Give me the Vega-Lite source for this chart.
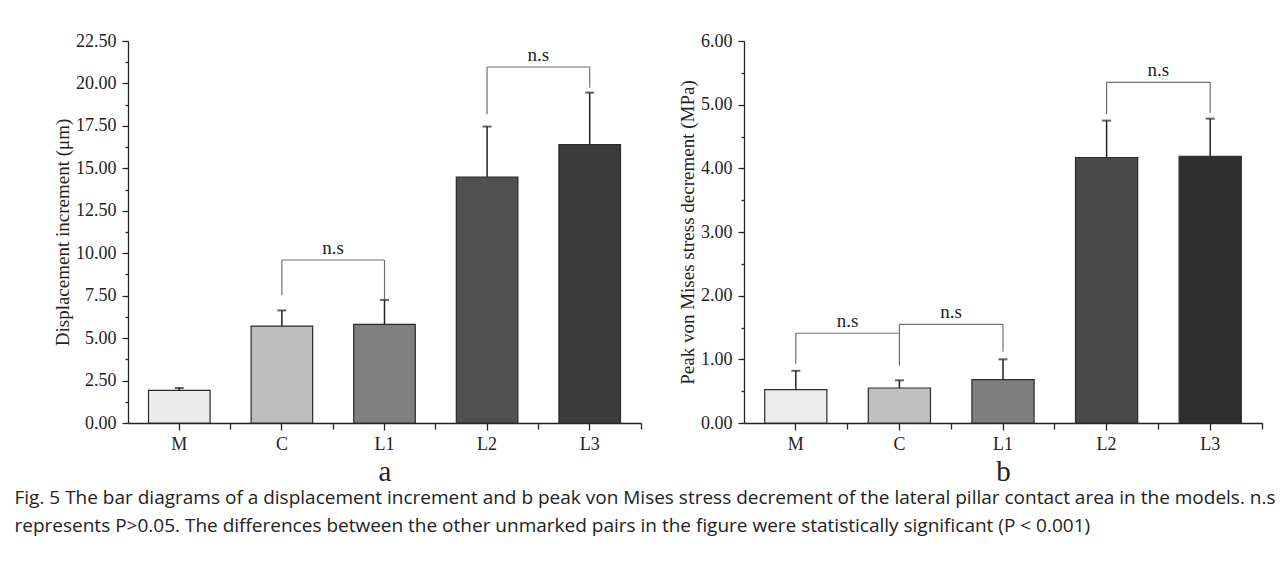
{
  "$schema": "https://vega.github.io/schema/vega-lite/v6.json",
  "background": "white",
  "padding": {"left": 14, "top": 32, "right": 5, "bottom": 5},
  "config": {
    "view": {"stroke": null},
    "axis": {
      "labelFont": "Liberation Serif", "labelFontSize": 18, "labelColor": "#222",
      "titleFont": "Liberation Serif", "titleFontWeight": "normal", "titleColor": "#222",
      "domainColor": "#222", "tickColor": "#222", "domainWidth": 1.3, "tickWidth": 1.3,
      "grid": false
    }
  },
  "title": {
    "text": [
      "Fig. 5 The bar diagrams of a displacement increment and b peak von Mises stress decrement of the lateral pillar contact area in the models. n.s",
      "represents P>0.05. The differences between the other unmarked pairs in the figure were statistically significant (P < 0.001)"
    ],
    "orient": "bottom", "anchor": "start", "font": "Open Sans", "fontSize": 19,
    "fontWeight": "normal", "color": "#222", "lineHeight": 28, "offset": 3, "dx": -39
  },
  "datasets": {
    "a_bars": [
      {"group": "M", "mean": 1.92, "upper": 2.06},
      {"group": "C", "mean": 5.71, "upper": 6.63},
      {"group": "L1", "mean": 5.81, "upper": 7.25},
      {"group": "L2", "mean": 14.49, "upper": 17.46},
      {"group": "L3", "mean": 16.4, "upper": 19.46}
    ],
    "a_legs": [
      {"cat": "C", "lo": 7.52, "hi": 9.6},
      {"cat": "L1", "lo": 7.3, "hi": 9.6},
      {"cat": "L2", "lo": 18.18, "hi": 20.97},
      {"cat": "L3", "lo": 19.75, "hi": 20.97}
    ],
    "a_brk": [
      {"from": "C", "to": "L1", "y": 9.6, "label": "n.s"},
      {"from": "L2", "to": "L3", "y": 20.97, "label": "n.s"}
    ],
    "b_bars": [
      {"group": "M", "mean": 0.525, "upper": 0.82},
      {"group": "C", "mean": 0.55, "upper": 0.67},
      {"group": "L1", "mean": 0.68, "upper": 1.0},
      {"group": "L2", "mean": 4.17, "upper": 4.75},
      {"group": "L3", "mean": 4.19, "upper": 4.78}
    ],
    "b_legs": [
      {"cat": "M", "lo": 0.93, "hi": 1.41},
      {"cat": "C", "lo": 0.9, "hi": 1.55},
      {"cat": "L1", "lo": 1.12, "hi": 1.55},
      {"cat": "L2", "lo": 4.85, "hi": 5.35},
      {"cat": "L3", "lo": 4.87, "hi": 5.35}
    ],
    "b_brk": [
      {"from": "M", "to": "C", "y": 1.41, "label": "n.s"},
      {"from": "C", "to": "L1", "y": 1.55, "label": "n.s"},
      {"from": "L2", "to": "L3", "y": 5.35, "label": "n.s"}
    ]
  },
  "spacing": 36,
  "resolve": {"scale": {"fill": "independent"}},
  "hconcat": [
    {
      "width": 513, "height": 382,
      "layer": [
        {
          "data": {"name": "a_bars"},
          "mark": {"type": "bar", "width": {"band": 0.6}, "stroke": "#2a2a2a", "strokeWidth": 1.2},
          "encoding": {
            "x": {"field": "group", "type": "nominal",
              "scale": {"domain": ["M", "C", "L1", "L2", "L3"], "paddingInner": 0, "paddingOuter": 0},
              "axis": {"orient": "bottom", "bandPosition": 0.5, "tickSize": 7, "labelPadding": 5, "labelAngle": 0,
                "title": "a", "titleFontSize": 29, "titlePadding": 4}},
            "y": {"field": "mean", "type": "quantitative",
              "scale": {"domain": [0, 22.5], "nice": false, "zero": true},
              "axis": {"orient": "left", "values": [0, 2.5, 5, 7.5, 10, 12.5, 15, 17.5, 20, 22.5], "format": ".2f",
                "tickSize": 6, "labelPadding": 6, "title": "Displacement  increment (μm)", "titleFontSize": 19, "titlePadding": 3}},
            "fill": {"field": "group", "type": "nominal",
              "scale": {"domain": ["M", "C", "L1", "L2", "L3"], "range": ["#ebebeb", "#bebebe", "#808080", "#505050", "#3c3c3c"]},
              "legend": null}
          }
        },
        {
          "data": {"name": "a_bars"},
          "mark": {"type": "rule", "color": "#222", "strokeWidth": 1.5},
          "encoding": {
            "x": {"field": "group", "type": "nominal",
              "axis": {"orient": "bottom", "bandPosition": 1, "tickSize": 6, "labels": false, "domain": false, "title": null}},
            "y": {"field": "mean", "type": "quantitative",
              "axis": {"orient": "left", "values": [1.25, 3.75, 6.25, 8.75, 11.25, 13.75, 16.25, 18.75, 21.25],
                "tickSize": 3, "labels": false, "domain": false, "title": null}},
            "y2": {"field": "upper"}
          }
        },
        {
          "data": {"name": "a_bars"},
          "mark": {"type": "tick", "color": "#222", "thickness": 2, "size": 9},
          "encoding": {
            "x": {"field": "group", "type": "nominal", "axis": null},
            "y": {"field": "upper", "type": "quantitative", "axis": null}
          }
        },
        {
          "data": {"name": "a_legs"},
          "mark": {"type": "rule", "color": "#707070", "strokeWidth": 1.2},
          "encoding": {
            "x": {"field": "cat", "type": "nominal", "axis": null},
            "y": {"field": "lo", "type": "quantitative", "axis": null},
            "y2": {"field": "hi"}
          }
        },
        {
          "data": {"name": "a_brk"},
          "mark": {"type": "rule", "color": "#707070", "strokeWidth": 1.2},
          "encoding": {
            "x": {"field": "from", "type": "nominal", "axis": null},
            "x2": {"field": "to"},
            "y": {"field": "y", "type": "quantitative", "axis": null}
          }
        },
        {
          "data": {"name": "a_brk"},
          "mark": {"type": "text", "font": "Liberation Serif", "fontSize": 19, "color": "#222", "baseline": "alphabetic", "dy": -6},
          "encoding": {
            "x": {"field": "from", "type": "nominal", "bandPosition": 1, "axis": null},
            "y": {"field": "y", "type": "quantitative", "axis": null},
            "text": {"field": "label"}
          }
        }
      ],
      "resolve": {"axis": {"x": "independent", "y": "independent"}}
    },
    {
      "width": 518, "height": 382,
      "layer": [
        {
          "data": {"name": "b_bars"},
          "mark": {"type": "bar", "width": {"band": 0.6}, "stroke": "#2a2a2a", "strokeWidth": 1.2},
          "encoding": {
            "x": {"field": "group", "type": "nominal",
              "scale": {"domain": ["M", "C", "L1", "L2", "L3"], "paddingInner": 0, "paddingOuter": 0},
              "axis": {"orient": "bottom", "bandPosition": 0.5, "tickSize": 7, "labelPadding": 5, "labelAngle": 0,
                "title": "b", "titleFontSize": 29, "titlePadding": 4}},
            "y": {"field": "mean", "type": "quantitative",
              "scale": {"domain": [0, 6], "nice": false, "zero": true},
              "axis": {"orient": "left", "values": [0, 1, 2, 3, 4, 5, 6], "format": ".2f",
                "tickSize": 6, "labelPadding": 6, "title": "Peak von Mises stress decrement (MPa)", "titleFontSize": 19, "titlePadding": 3}},
            "fill": {"field": "group", "type": "nominal",
              "scale": {"domain": ["M", "C", "L1", "L2", "L3"], "range": ["#ececec", "#c0c0c0", "#7f7f7f", "#4a4a4a", "#2f2f2f"]},
              "legend": null}
          }
        },
        {
          "data": {"name": "b_bars"},
          "mark": {"type": "rule", "color": "#222", "strokeWidth": 1.5},
          "encoding": {
            "x": {"field": "group", "type": "nominal",
              "axis": {"orient": "bottom", "bandPosition": 1, "tickSize": 6, "labels": false, "domain": false, "title": null}},
            "y": {"field": "mean", "type": "quantitative",
              "axis": {"orient": "left", "values": [0.5, 1.5, 2.5, 3.5, 4.5, 5.5],
                "tickSize": 3, "labels": false, "domain": false, "title": null}},
            "y2": {"field": "upper"}
          }
        },
        {
          "data": {"name": "b_bars"},
          "mark": {"type": "tick", "color": "#222", "thickness": 2, "size": 9},
          "encoding": {
            "x": {"field": "group", "type": "nominal", "axis": null},
            "y": {"field": "upper", "type": "quantitative", "axis": null}
          }
        },
        {
          "data": {"name": "b_legs"},
          "mark": {"type": "rule", "color": "#707070", "strokeWidth": 1.2},
          "encoding": {
            "x": {"field": "cat", "type": "nominal", "axis": null},
            "y": {"field": "lo", "type": "quantitative", "axis": null},
            "y2": {"field": "hi"}
          }
        },
        {
          "data": {"name": "b_brk"},
          "mark": {"type": "rule", "color": "#707070", "strokeWidth": 1.2},
          "encoding": {
            "x": {"field": "from", "type": "nominal", "axis": null},
            "x2": {"field": "to"},
            "y": {"field": "y", "type": "quantitative", "axis": null}
          }
        },
        {
          "data": {"name": "b_brk"},
          "mark": {"type": "text", "font": "Liberation Serif", "fontSize": 19, "color": "#222", "baseline": "alphabetic", "dy": -6},
          "encoding": {
            "x": {"field": "from", "type": "nominal", "bandPosition": 1, "axis": null},
            "y": {"field": "y", "type": "quantitative", "axis": null},
            "text": {"field": "label"}
          }
        }
      ],
      "resolve": {"axis": {"x": "independent", "y": "independent"}}
    }
  ]
}
